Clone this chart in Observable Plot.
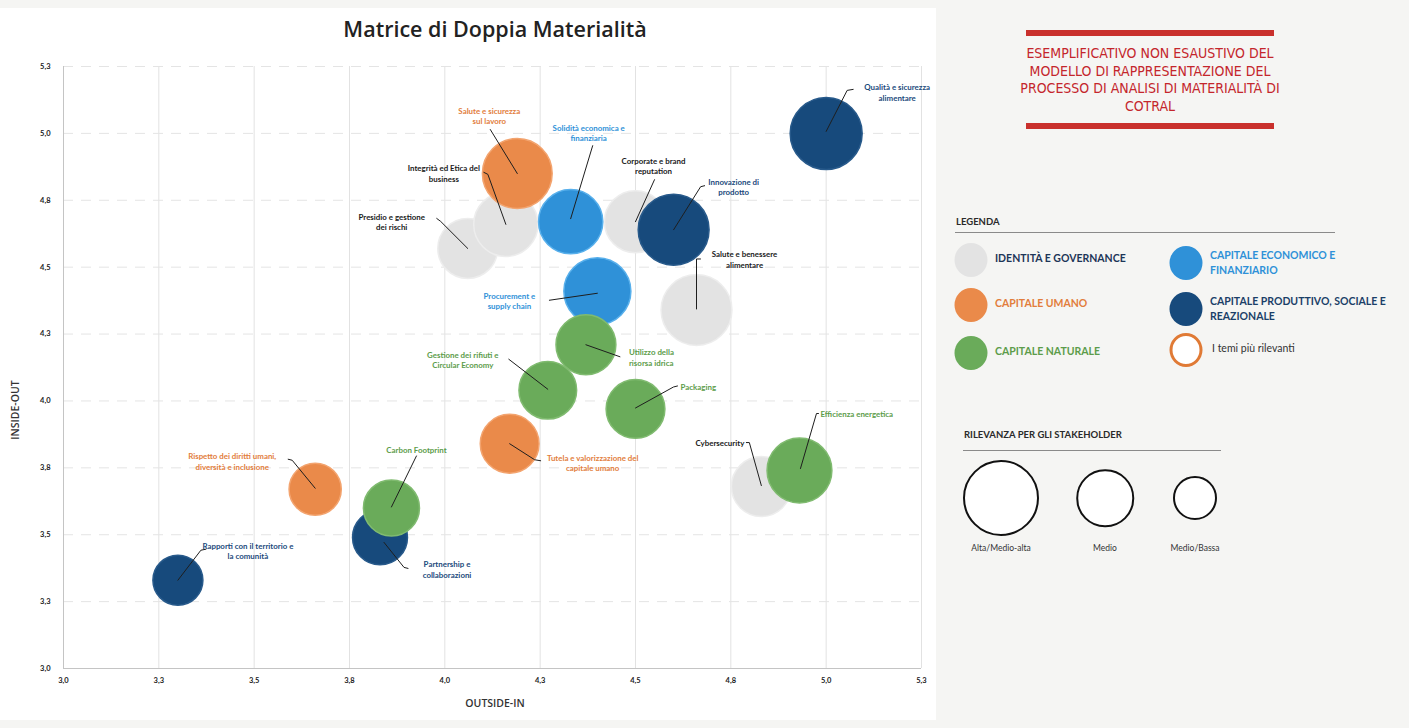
<!DOCTYPE html>
<html>
<head>
<meta charset="utf-8">
<script src="https://cdn.jsdelivr.net/npm/d3@7"></script>
<script src="https://cdn.jsdelivr.net/npm/@observablehq/plot@0.6"></script>
<style>
html,body{margin:0;padding:0;}
body{width:1409px;height:728px;background:#f5f5f3;position:relative;overflow:hidden;font-family:Lato,sans-serif;}
#panel{position:absolute;left:0;top:8px;width:936px;height:712px;background:#fff;}
#title{position:absolute;left:0;width:990px;top:14px;text-align:center;font-family:"Open Sans",sans-serif;font-weight:600;font-size:21.5px;color:#222;}
#chart{position:absolute;left:0;top:45px;}
.axt{position:absolute;font-family:"Open Sans",sans-serif;font-size:10.5px;font-weight:600;color:#333;white-space:nowrap;}
#ylab{left:15px;top:410px;transform:translate(-50%,-50%) rotate(-90deg);}
#xlab{left:495px;top:703px;transform:translate(-50%,-50%);}
.bar{position:absolute;left:1026px;width:248px;height:6px;background:#c9302c;}
#note{position:absolute;left:950px;width:400px;top:45px;text-align:center;font-family:"DejaVu Sans Condensed","DejaVu Sans",sans-serif;font-size:14px;line-height:17.5px;color:#c4262c;}
.h{position:absolute;font-family:Lato,sans-serif;font-weight:700;font-size:9.5px;color:#2a2a2a;}
.rule{position:absolute;height:1px;background:#8a8a8a;}
.c{position:absolute;border-radius:50%;transform:translate(-50%,-50%);}
.lt{position:absolute;font-family:Lato,sans-serif;font-weight:700;font-size:10.5px;line-height:15px;transform:translateY(-50%);white-space:nowrap;}
.sl{position:absolute;font-family:Lato,sans-serif;font-size:8.5px;color:#333;transform:translate(-50%,-50%);white-space:nowrap;}
</style>
</head>
<body>
<div id="panel"></div>
<div id="title">Matrice di Doppia Materialità</div>
<div id="chart"></div>
<div class="axt" id="ylab">INSIDE-OUT</div>
<div class="axt" id="xlab">OUTSIDE-IN</div>

<div class="bar" style="top:30px"></div>
<div id="note">ESEMPLIFICATIVO NON ESAUSTIVO DEL<br>MODELLO DI RAPPRESENTAZIONE DEL<br>PROCESSO DI ANALISI DI MATERIALITÀ DI<br>COTRAL</div>
<div class="bar" style="top:123px"></div>

<div class="h" style="left:956px;top:216px">LEGENDA</div>
<div class="rule" style="left:955px;top:232px;width:380px"></div>
<div id="legend"></div>

<div class="h" style="left:964px;top:429px">RILEVANZA PER GLI STAKEHOLDER</div>
<div class="rule" style="left:963px;top:450px;width:258px"></div>
<div id="sizeLegend"></div>

<script>
// ---------------- DATA ----------------
const capitalKeys = ["I", "E", "P", "U", "N"];
const capitalNames = [
  "IDENTITÀ E GOVERNANCE",
  "CAPITALE ECONOMICO E\nFINANZIARIO",
  "CAPITALE PRODUTTIVO, SOCIALE  E\nREAZIONALE",
  "CAPITALE UMANO",
  "CAPITALE NATURALE"
];
const topicLabels = [
  "Presidio e gestione\ndei rischi",
  "Integrità ed Etica del\nbusiness",
  "Corporate e brand\nreputation",
  "Salute e benessere\nalimentare",
  "Cybersecurity",
  "Solidità economica e\nfinanziaria",
  "Procurement e\nsupply chain",
  "Qualità e sicurezza\nalimentare",
  "Innovazione di\nprodotto",
  "Partnership e\ncollaborazioni",
  "Rapporti con il territorio e\nla comunità",
  "Salute e sicurezza\nsul lavoro",
  "Tutela e valorizzazione del\ncapitale umano",
  "Rispetto dei diritti umani,\ndiversità e inclusione",
  "Utilizzo della\nrisorsa idrica",
  "Gestione dei rifiuti e\nCircular Economy",
  "Packaging",
  "Carbon Footprint",
  "Efficienza energetica"
];
const topicCapital = ["I","I","I","I","I","E","E","P","P","P","P","U","U","U","N","N","N","N","N"];
const outsideIn  = [4.06,4.16,4.50,4.66,4.83,4.33,4.40,5.00,4.60,3.83,3.30,4.19,4.17,3.66,4.37,4.27,4.50,3.86,4.93];
const insideOut  = [4.57,4.66,4.67,4.34,3.68,4.67,4.41,5.00,4.64,3.49,3.33,4.85,3.84,3.67,4.21,4.04,3.97,3.60,3.74];
const stakeholderRelevance = [3.9,4.3,4.1,4.9,3.9,4.3,4.55,5.0,4.9,3.45,3.0,4.8,3.8,3.2,3.9,3.7,3.8,3.55,4.35];

const axisTicks = [3.0,3.25,3.5,3.75,4.0,4.25,4.5,4.75,5.0,5.25];
const axisTickLabels = ["3,0","3,3","3,5","3,8","4,0","4,3","4,5","4,8","5,0","5,3"];

const sizeLegendLabels = ["Alta/Medio-alta","Medio","Medio/Bassa"];
const sizeLegendValues = [5.6, 4.1, 3.0];

// ---------------- STYLE ----------------
const fillColor   = {I:"#e3e3e3", E:"#2f91d8", P:"#174a7c", U:"#ea8a4a", N:"#6aab5a"};
const strokeColor = {I:"#ededed", E:"#58b0ec", P:"#285a8b", U:"#f3a46f", N:"#80bb70"};
const textColor   = {I:"#1a1a1a", E:"#2f91d8", P:"#1b4a7c", U:"#e27d3c", N:"#5c9c4a"};
const legendTextColor = {I:"#1d3658", E:"#2f91d8", P:"#1b3f68", U:"#e27d3c", N:"#5c9c4a"};

// label placement (pixel offsets from bubble centre) and leader paths
const labelLayout = [
  {dx:-76, dy:-27,  a:"middle", lead:[[-31,-30],[-27,-27],[0,0]]},
  {dx:-62, dy:-51.5,a:"middle", lead:[[-22,-52],[-18,-50],[0,0]]},
  {dx:18,  dy:-56,  a:"middle", lead:[[19,-42],[0,0]]},
  {dx:48,  dy:-51,  a:"middle", lead:[[4,-51],[0,-51],[0,-1]]},
  {dx:-17, dy:-44,  a:"end",    lead:[[-15,-44],[-12,-44],[0,-1]]},
  {dx:18,  dy:-89,  a:"middle", lead:[[22,-76],[0,-3]]},
  {dx:-88, dy:9.5,  a:"middle", lead:[[-48,9],[0,2]]},
  {dx:71,  dy:-41.5,a:"middle", lead:[[27,-44],[21,-43],[0,-2]]},
  {dx:60,  dy:-43,  a:"middle", lead:[[31,-44],[27,-43],[0,0]]},
  {dx:67,  dy:32,   a:"middle", lead:[[28,31],[24,30],[4,5]]},
  {dx:70,  dy:-29.5,a:"middle", lead:[[28,-31],[23,-30],[0,0]]},
  {dx:-28, dy:-58,  a:"middle", lead:[[-27,-44],[0,0]]},
  {dx:83,  dy:19,   a:"middle", lead:[[31,17],[25,16],[0,0]]},
  {dx:-83, dy:-28,  a:"middle", lead:[[-27,-30],[-23,-29],[0,-1]]},
  {dx:43,  dy:12.5, a:"start",  lead:[[34,12],[0,0]]},
  {dx:-85, dy:-30.5,a:"middle", lead:[[-39,-31],[0,-1]]},
  {dx:45,  dy:-22,  a:"start",  lead:[[42,-23],[38,-22],[0,-1]]},
  {dx:25,  dy:-58,  a:"middle", lead:[[25,-52],[0,-1]]},
  {dx:21,  dy:-57,  a:"start",  lead:[[19,-57],[17,-57],[1,-2]]}
];

// ---------------- CHART ----------------
const W = 940, H = 680;
const xOpts = {domain:[3,5.25], range:[63,921]};
const yOpts = {domain:[3,5.25], range:[623,21]};
const rOpts = {type:"linear", domain:[3,5], range:[25,36]};
const xs = Plot.scale({x: xOpts});
const ys = Plot.scale({y: yOpts});

const topics = topicLabels.map((label, i) => ({
  label, cap: topicCapital[i], x: outsideIn[i], y: insideOut[i], rel: stakeholderRelevance[i], lay: labelLayout[i]
}));

const px = (v, d) => xs.invert(xs.apply(v) + d);
const py = (v, d) => ys.invert(ys.apply(v) + d);

const labelPts = topics.map(t => ({...t, lx: px(t.x, t.lay.dx), ly: py(t.y, t.lay.dy)}));
const leaderPts = topics.flatMap((t, i) => t.lay.lead.map(([dx, dy]) => ({id:i, x: px(t.x, dx), y: py(t.y, dy)})));

const textMark = anchor => Plot.text(labelPts.filter(d => d.lay.a === anchor), {
  x: "lx", y: "ly", text: "label", textAnchor: anchor, lineHeight: 1.35,
  fill: d => textColor[d.cap], fontSize: 7.9, fontWeight: 700, fontFamily: "Lato"
});

const chart = Plot.plot({
  width: W, height: H,
  marginLeft: 63, marginRight: 19, marginTop: 21, marginBottom: 57,
  x: xOpts, y: yOpts, r: rOpts,
  style: {background: "transparent", fontFamily: "Lato", overflow: "visible"},
  marks: [
    Plot.gridX(axisTicks.slice(1), {stroke: "#e2e2e2", strokeOpacity: 1, strokeWidth: 1}),
    Plot.gridY(axisTicks.slice(1), {stroke: "#e4e4e4", strokeOpacity: 1, strokeDasharray: "10,8"}),
    Plot.ruleX([3], {stroke: "#c4c4c4"}),
    Plot.ruleY([3], {stroke: "#c4c4c4"}),
    Plot.axisX(axisTicks, {tickSize: 0, tickPadding: 9, tickFormat: d => axisTickLabels[axisTicks.indexOf(d)], fontSize: 7.5, fontWeight: 700, fill: "#222", label: null}),
    Plot.axisY(axisTicks, {tickSize: 0, tickPadding: 13, tickFormat: d => axisTickLabels[axisTicks.indexOf(d)], fontSize: 7.5, fontWeight: 700, fill: "#222", label: null}),
    Plot.dot(topics, {x: "x", y: "y", r: "rel", sort: null,
      fill: d => fillColor[d.cap], stroke: d => strokeColor[d.cap], strokeWidth: 1.5, fillOpacity: 1}),
    Plot.line(leaderPts, {x: "x", y: "y", z: "id", stroke: "#1e1e1e", strokeWidth: 1}),
    textMark("middle"), textMark("start"), textMark("end")
  ]
});
document.getElementById("chart").appendChild(chart);

// ---------------- LEGENDS (HTML) ----------------
const legendPos = [[971,260],[1186,263],[1186,309],[971,305],[971,353]];
const leg = document.getElementById("legend");
capitalKeys.forEach((k, i) => {
  const [cx, cy] = legendPos[i];
  const c = document.createElement("div");
  c.className = "c";
  Object.assign(c.style, {left: cx+"px", top: cy+"px", width: "33px", height: "34px", background: fillColor[k]});
  leg.appendChild(c);
  const t = document.createElement("div");
  t.className = "lt";
  const lines = capitalNames[i].split("\n");
  Object.assign(t.style, {left: (cx + 24) + "px", top: (cy + (lines.length > 1 ? 0 : -2)) + "px", color: legendTextColor[k]});
  t.innerHTML = lines.join("<br>");
  leg.appendChild(t);
});
// ring entry
{
  const c = document.createElement("div");
  c.className = "c";
  Object.assign(c.style, {left:"1186px", top:"350px", width:"27px", height:"28px", background:"#fff", border:"3.5px solid #e07a35"});
  leg.appendChild(c);
  const t = document.createElement("div");
  t.className = "lt";
  Object.assign(t.style, {left:"1212px", top:"348px", color:"#333", fontWeight:"400"});
  t.textContent = "I temi più rilevanti";
  leg.appendChild(t);
}
const rLeg = Plot.scale({r: {type:"linear", domain:[3,5.6], range:[22,38]}});
const sizePos = [1001, 1105, 1195];
const sl = document.getElementById("sizeLegend");
sizeLegendLabels.forEach((lab, i) => {
  const r = rLeg.apply(sizeLegendValues[i]);
  const c = document.createElement("div");
  c.className = "c";
  Object.assign(c.style, {left: sizePos[i]+"px", top: "498px", width: (2*r-4)+"px", height: (2*r-4)+"px", background:"#fff", border:"2px solid #111"});
  sl.appendChild(c);
  const t = document.createElement("div");
  t.className = "sl";
  Object.assign(t.style, {left: sizePos[i]+"px", top: "548px"});
  t.textContent = lab;
  sl.appendChild(t);
});
</script>
</body>
</html>
